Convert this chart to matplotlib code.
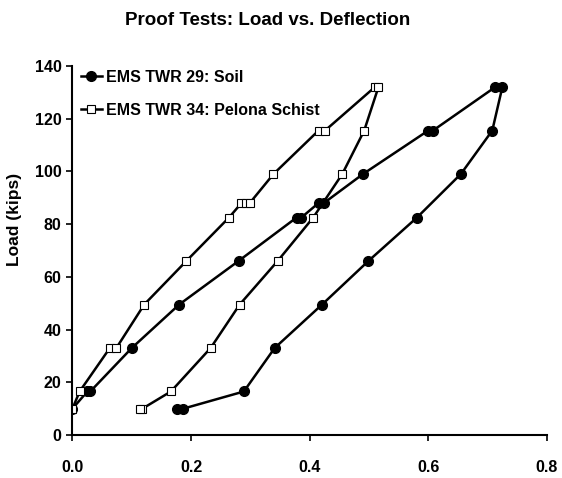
import matplotlib
matplotlib.use("Agg")
import matplotlib.pyplot as plt

plt.rcParams['font.family'] = ['Liberation Sans', 'DejaVu Sans']

title = "Proof Tests: Load vs. Deflection"
ylabel = "Load (kips)"

soil_label = "EMS TWR 29: Soil"
soil_defl = [0.0, 0.025, 0.030, 0.100, 0.180, 0.280, 0.378, 0.386, 0.415, 0.424,
             0.490, 0.600, 0.608, 0.713, 0.725, 0.708, 0.655, 0.581, 0.499,
             0.421, 0.341, 0.289, 0.187, 0.176]
soil_load = [10, 16.5, 16.5, 33, 49.5, 66, 82.5, 82.5, 88, 88,
             99, 115.5, 115.5, 132, 132, 115.5, 99, 82.5, 66,
             49.5, 33, 16.5, 10, 10]

schist_label = "EMS TWR 34: Pelona Schist"
schist_defl = [0.0, 0.012, 0.063, 0.074, 0.121, 0.192, 0.264, 0.285, 0.292, 0.299,
               0.339, 0.415, 0.426, 0.510, 0.516, 0.492, 0.455, 0.406, 0.346,
               0.282, 0.233, 0.166, 0.118, 0.114]
schist_load = [10, 16.5, 33, 33, 49.5, 66, 82.5, 88, 88, 88,
               99, 115.5, 115.5, 132, 132, 115.5, 99, 82.5, 66,
               49.5, 33, 16.5, 10, 10]

xticks = [0.0, 0.2, 0.4, 0.6, 0.8]
yticks = [0, 20, 40, 60, 80, 100, 120, 140]

fig = plt.figure(figsize=(5.62, 4.78), dpi=100)
ax = fig.add_axes([0.129, 0.090, 0.844, 0.772])

ax.plot(soil_defl, soil_load, color='black', lw=1.8, marker='o', ms=7,
        mfc='black', mec='black', label=soil_label)
ax.plot(schist_defl, schist_load, color='black', lw=1.8, marker='s', ms=6,
        mfc='white', mec='black', mew=0.8, label=schist_label)

ax.set_xlim(0, 0.8)
ax.set_ylim(0, 140)
ax.set_xticks(xticks)
ax.set_yticks(yticks)
ax.set_xticklabels([f"{v:.1f}" for v in xticks])
ax.set_yticklabels([str(v) for v in yticks])
for lbl in ax.get_xticklabels() + ax.get_yticklabels():
    lbl.set_fontweight('bold')
    lbl.set_fontsize(11.5)
ax.tick_params(direction='out', length=4, width=1.2, colors='black')
ax.tick_params(axis='x', pad=14)
ax.tick_params(axis='y', pad=4)
ax.spines['top'].set_visible(False)
ax.spines['right'].set_visible(False)
ax.spines['left'].set_linewidth(1.5)
ax.spines['bottom'].set_linewidth(1.5)

ax.set_ylabel(ylabel, fontsize=12.5, fontweight='bold')
ax.yaxis.set_label_coords(-0.107, 0.583)
fig.text(0.476, 0.958, title, fontsize=13.5, fontweight='bold', ha='center', va='center')

leg = ax.legend(loc='upper left', frameon=False, prop={'weight': 'bold', 'size': 11.5},
                handlelength=1.3, handletextpad=0.3, borderaxespad=0.0, borderpad=0.0,
                labelspacing=1.15, bbox_to_anchor=(0.0175, 0.99))

fig.savefig("out.png", dpi=100)
